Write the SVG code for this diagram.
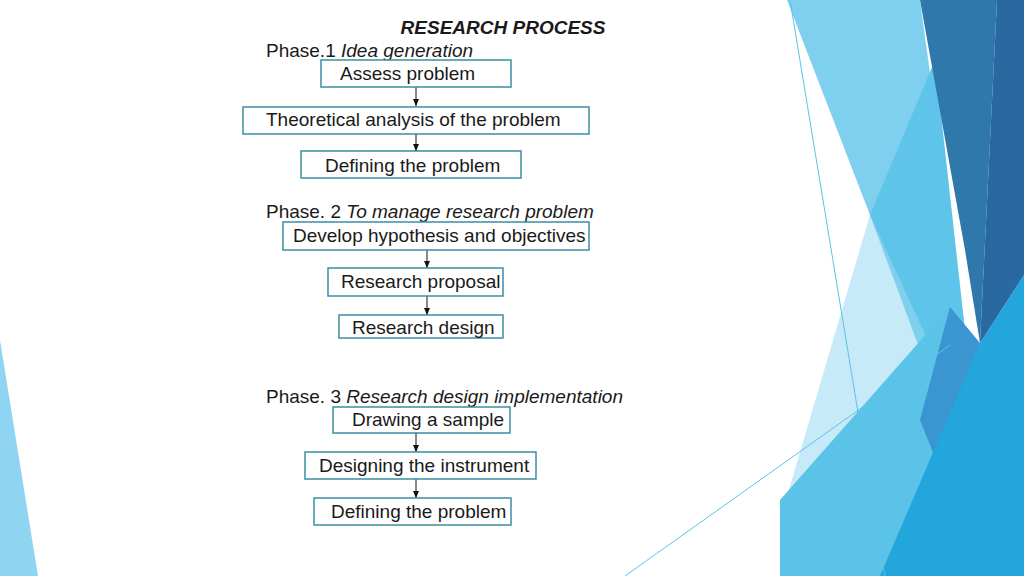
<svg xmlns="http://www.w3.org/2000/svg" width="1024" height="576" viewBox="0 0 1024 576">
<defs>
<style>
text{font-family:"Liberation Sans",Arial,sans-serif;font-size:19px;fill:#1a1a1a}
.it{font-style:italic}
.b{fill:#fff;stroke:#3b8ea5;stroke-width:1.5}
.c{stroke:#111;stroke-width:1}
</style>
<marker id="a" markerWidth="8" markerHeight="8" refX="7" refY="4" orient="auto" markerUnits="userSpaceOnUse"><path d="M0,1 L7,4 L0,7z" fill="#111"/></marker>
</defs>
<rect width="1024" height="576" fill="#fff"/>
<g id="background">
<polygon points="0,340 38,576 0,576" fill="#8fd5f1"/>
<polygon points="870,215 935,330 960,576 780,576 780,520" fill="#c6eaf7"/>
<polygon points="787,0 920,0 965,330 920,350 870,215" fill="#7fd0ee"/>
<polygon points="870,215 935,60 965,330 930,345" fill="#5fc4ea"/>
<polygon points="780,576 780,500 950,307 980,576" fill="#5bc3e8"/>
<polygon points="950,307 980,343 940,470 920,420" fill="#3a95d0"/>
<polygon points="980,343 1024,275 1024,576 880,576" fill="#22a6dc"/>
<polygon points="920,0 997,0 980,343 965,250" fill="#2e78ab"/>
<polygon points="997,0 1024,0 1024,275 980,343" fill="#2968a0"/>
<line x1="790" y1="0" x2="885" y2="576" stroke="#5bc3e8" stroke-width="1"/>
<line x1="625" y1="576" x2="950" y2="345" stroke="#5bc3e8" stroke-width="1"/>
</g>
<text x="503" y="34" text-anchor="middle" class="it" font-weight="bold">RESEARCH PROCESS</text>
<text x="266" y="57">Phase.1 <tspan class="it">Idea generation</tspan></text>
<text x="266" y="218">Phase. 2 <tspan class="it">To manage research problem</tspan></text>
<text x="266" y="403">Phase. 3 <tspan class="it">Research design implementation</tspan></text>
<g id="connectors">
<line class="c" x1="416" y1="87" x2="416" y2="106" marker-end="url(#a)"/>
<line class="c" x1="416" y1="134" x2="416" y2="151" marker-end="url(#a)"/>
<line class="c" x1="427" y1="250" x2="427" y2="268" marker-end="url(#a)"/>
<line class="c" x1="427" y1="296" x2="427" y2="315" marker-end="url(#a)"/>
<line class="c" x1="416" y1="433" x2="416" y2="452" marker-end="url(#a)"/>
<line class="c" x1="416" y1="479" x2="416" y2="498" marker-end="url(#a)"/>
</g>
<g id="n1"><rect class="b" x="321" y="60" width="190" height="27"/><text x="340" y="80">Assess problem</text></g>
<g id="n2"><rect class="b" x="243" y="107" width="346" height="27"/><text x="266" y="126">Theoretical analysis of the problem</text></g>
<g id="n3"><rect class="b" x="301" y="151" width="220" height="27"/><text x="325" y="172">Defining the problem</text></g>
<g id="n4"><rect class="b" x="283" y="222" width="306" height="28"/><text x="293" y="242">Develop hypothesis and objectives</text></g>
<g id="n5"><rect class="b" x="328" y="268" width="175" height="28"/><text x="341" y="288">Research proposal</text></g>
<g id="n6"><rect class="b" x="339" y="315" width="164" height="23"/><text x="352" y="334">Research design</text></g>
<g id="n7"><rect class="b" x="333" y="407" width="177" height="26"/><text x="352" y="426">Drawing a sample</text></g>
<g id="n8"><rect class="b" x="305" y="452" width="231" height="27"/><text x="319" y="472">Designing the instrument</text></g>
<g id="n9"><rect class="b" x="314" y="498" width="197" height="27"/><text x="331" y="518">Defining the problem</text></g>
</svg>
